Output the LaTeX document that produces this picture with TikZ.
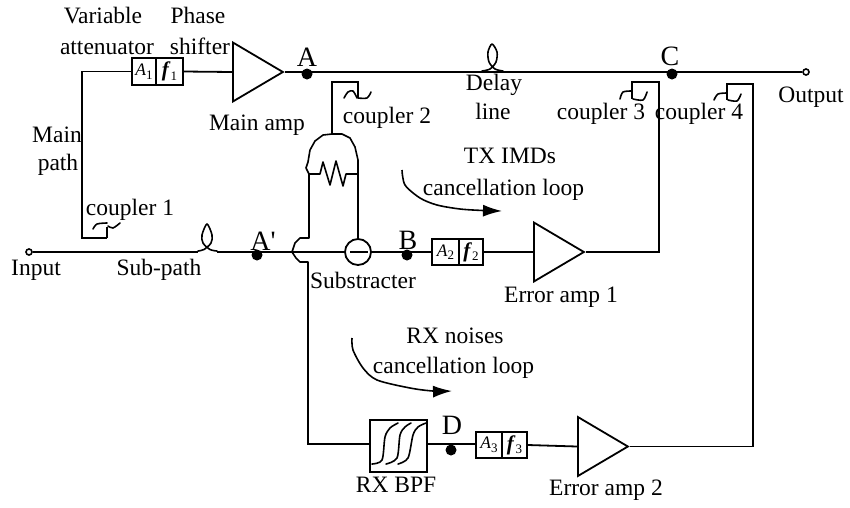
\documentclass[tikz,border=0pt]{standalone}
\usepackage{fontspec}
\setmainfont{Liberation Serif}
\newfontfamily\plainserif{Liberation Serif}
\usetikzlibrary{shapes.geometric,arrows.meta}
\tikzset{
  wire/.style={line width=1.8pt,line join=miter},
  thin wire/.style={line width=1.6pt,line join=round,line cap=round},
  lab/.style={anchor=base,inner sep=0pt,font=\fontsize{23.5}{24}\selectfont},
  biglab/.style={anchor=base,inner sep=0pt,font=\fontsize{28}{28}\selectfont},
  dot/.style={circle,fill=black,inner sep=0pt,minimum size=11pt},
  term/.style={circle,draw,line width=1.6pt,inner sep=0pt,minimum size=6pt},
  cell/.style={rectangle,draw,line width=1.8pt,inner sep=0pt,minimum height=26.5pt,font=\fontsize{17.5}{17}\selectfont},
  amp/.style={isosceles triangle,isosceles triangle stretches,shape border rotate=0,draw,line width=1.8pt,inner sep=0pt,minimum width=59pt,minimum height=50pt},
  loopar/.style={line width=1.6pt,-{Latex[length=19pt,width=12pt]}},
}
\newcommand{\attcell}[1]{\textit{A}\raisebox{-3.5pt}{\fontsize{13}{13}\selectfont #1}}
\newcommand{\phicell}[1]{{\fontsize{21}{21}\selectfont\textbf{\textit{f}}}\raisebox{-3.5pt}{\fontsize{13}{13}\selectfont #1}}
\begin{document}
\begin{tikzpicture}[x=1pt,y=-1pt]
\useasboundingbox (0,0) rectangle (850,507);
% terminals
\node[term] (in) at (29,252) {};
\node[term] (out) at (806,72) {};
% main path elements
\node[cell,minimum width=24.5pt] (a1) at (144,71.5) {\attcell{1}};
\node[cell,minimum width=27pt] (f1) at (169.5,71.5) {\phicell{1}};
\node[amp,anchor=lower side] (mainamp) at (232,72) {};
\node[dot] (A) at (307,74) {};
\node[dot] (C) at (672,74) {};
% sub path elements
\node[dot] (Ap) at (257,255) {};
\node[circle,draw,line width=1.8pt,inner sep=0pt,minimum size=26pt] (sub) at (358,252) {};
\node[dot] (B) at (407,255) {};
\node[cell,minimum width=27pt] (a2) at (445.5,252) {\attcell{2}};
\node[cell,minimum width=24.5pt] (f2) at (471,252) {\phicell{2}};
\node[amp,anchor=lower side] (eamp1) at (533,252) {};
% RX branch
\node[rectangle,draw,line width=1.8pt,inner sep=0pt,minimum width=57pt,minimum height=52pt] (bpf) at (398.5,446) {};
\node[dot] (D) at (451,450) {};
\node[cell,minimum width=26pt] (a3) at (489,445) {\attcell{3}};
\node[cell,minimum width=25pt] (f3) at (514.5,445) {\phicell{3}};
\node[amp,anchor=lower side] (eamp2) at (577,446.5) {};
% junction coordinates
\coordinate (c1top) at (82,71.5);
\coordinate (c1bot) at (82,238);
\coordinate (c1end) at (107,238);
\coordinate (hopT) at (309,238);
\coordinate (hopB) at (308,262);
\coordinate (rxc) at (308,444);
\coordinate (c3c) at (659,252);
\coordinate (c3t) at (659,82);
\coordinate (c3l) at (632,82);
\coordinate (c4b) at (753,446.5);
\coordinate (c4t) at (753,84);
\coordinate (c4l) at (727,84);
\coordinate (c2b) at (332,134);
\coordinate (c2t) at (332,82);
\coordinate (c2r) at (358,82);
\coordinate (wl) at (309,174);
\coordinate (wr) at (358,174);
\coordinate (gapL) at (198,252);
\coordinate (gapR) at (217,252);
% connectors
\draw[wire] (in.east) -- (gapL);
\draw[wire] (gapR) -- (sub.west);
\draw[wire] (sub.east) -- (a2.west);
\draw[wire] (c1end) -- (c1bot) -- (c1top) -- (a1.west);
\draw[wire] (f1.east) -- (mainamp.lower side);
\draw[wire] (mainamp.apex) -- (out.west);
\draw[wire] (f2.east) -- (eamp1.lower side);
\draw[wire] (eamp1.apex) -- (c3c) -- (c3t) -- (c3l) -- (632,99);
\draw[wire] (eamp2.apex) -- (c4b) -- (c4t) -- (c4l) -- (727,100);
\draw[wire] (hopB) -- (rxc) -- (bpf.west |- rxc);
\draw[wire] (bpf.east |- rxc) -- (a3.west |- rxc);
\draw[wire] (f3.east) -- (eamp2.lower side);
\draw[wire] (c2b) -- (c2t) -- (c2r) -- (358,98);
\draw[wire] (wl) -- (hopT);
\draw[wire] (wr) -- (sub.north);
\draw[wire] (c1end) -- (107,227);
% crossing hop
\draw[thin wire] (hopT) -- (300,238) -- (295,243) -- (292,252) -- (296,258) -- (300,262) -- (hopB);
% minus in subtractor
\draw[wire] (350,252) -- (368,252);
% dome and resistor
\draw[thin wire] (c2b) -- (323,135) -- (315,141) -- (310,150) -- (308,162) -- (306,168) -- (wl);
\draw[thin wire] (c2b) -- (342,134) -- (350,138) -- (355,147) -- (358,160) -- (wr);
\draw[thin wire] (wl) -- (320,174) -- (323,162) -- (330,185) -- (336,161) -- (343,186) -- (346,174) -- (wr);
% coupler squiggles
\draw[thin wire] plot[smooth] coordinates {(93,229) (97,224) (107,223)};
\draw[thin wire] plot[smooth] coordinates {(108,226) (113,228) (120,223)};
\draw[thin wire] plot[smooth] coordinates {(344,98) (348,92) (353,91) (357,98)};
\draw[thin wire] plot[smooth] coordinates {(358,98) (367,98) (371,92)};
\draw[thin wire] plot[smooth] coordinates {(620,99) (623,92) (632,91)};
\draw[thin wire] plot[smooth] coordinates {(633,99) (643,100) (647,92)};
\draw[thin wire] plot[smooth] coordinates {(714,100) (718,94) (727,93)};
\draw[thin wire] plot[smooth] coordinates {(728,100) (737,101) (741,94)};
% delay loops
\draw[thin wire] plot[smooth] coordinates {(198,251) (204,249.5) (211,243) (212,235) (207,224) (202,235) (203,243) (210,249.5) (217,251)};
\draw[thin wire] plot[smooth] coordinates {(482,71) (490,69) (496,62) (497,52) (492,44) (488,52) (489,62) (495,69) (503,71)};
% BPF curves
\draw[thin wire] plot[smooth] coordinates {(372,464) (382,460) (385,437) (390,428) (398,423)};
\draw[thin wire] plot[smooth] coordinates {(386,464) (397,458) (400,435) (405,427) (411,423)};
\draw[thin wire] plot[smooth] coordinates {(398,464) (408,458) (413,435) (418,427) (426,423)};
% loop arrows
\draw[loopar] plot[smooth] coordinates {(402,170) (405,185) (420,198) (437,205) (460,209) (483,210.5) (502,211)};
\draw[loopar] plot[smooth] coordinates {(352,338) (353,350) (363,368) (377,380) (410,388) (433,391) (452,391)};
% labels
\node[lab] (tVar) at (103,23) {Variable};
\node[lab] (tAtt) at (107,54) {attenuator};
\node[lab] (tPha) at (198,23) {Phase};
\node[lab] (tShi) at (200,54) {shifter};
\node[lab] (tMam) at (257,130) {Main amp};
\node[lab] (tMai) at (57,142) {Main};
\node[lab] (tPat) at (58,170) {path};
\node[lab] (tC1) at (130,215) {coupler 1};
\node[lab] (tInp) at (36,275) {Input};
\node[lab] (tSub) at (159,275) {Sub-path};
\node[lab] (tC2) at (387,123) {coupler 2};
\node[lab] (tSbs) at (363,288) {Substracter};
\node[lab] (tDel) at (494,90) {Delay};
\node[lab] (tLin) at (493,119) {line};
\node[lab] (tC3) at (601,119) {coupler 3};
\node[lab] (tC4) at (699,119) {coupler 4};
\node[lab] (tOut) at (811,102) {Output};
\node[lab] (tTx) at (510,163) {TX IMDs};
\node[lab] (tTxc) at (503.5,195) {cancellation loop};
\node[lab] (tRx) at (455,343) {RX noises};
\node[lab] (tRxc) at (453.5,373) {cancellation loop};
\node[lab] (tE1) at (561,302) {Error amp 1};
\node[lab] (tE2) at (606,495) {Error amp 2};
\node[lab] (tBpf) at (396,492) {RX BPF};
\node[biglab] (lA) at (307,66) {A};
\node[biglab] (lC) at (670,65) {C};
\node[biglab] (lAp) at (263,250) {\plainserif A'};
\node[biglab] (lB) at (408,249) {B};
\node[biglab] (lD) at (452,434) {D};
\end{tikzpicture}
\end{document}
